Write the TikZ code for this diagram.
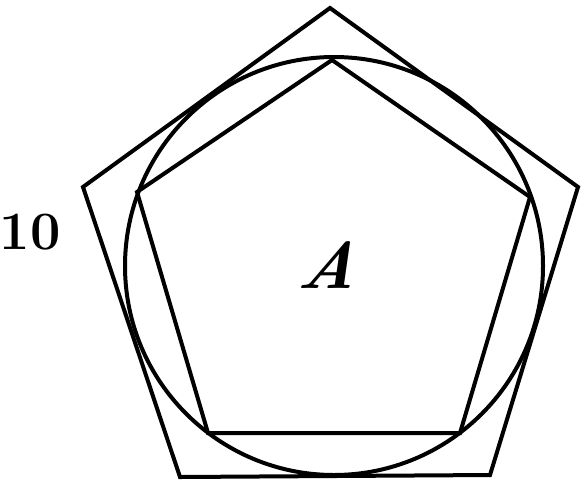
\documentclass[tikz,border=0pt]{standalone}
\begin{document}
\begin{tikzpicture}[x=0.5pt,y=-0.5pt,
  figline/.style={line width=2pt,line join=miter,black},
  lbl/.style={inner sep=0pt,font=\fontsize{27}{29}\selectfont\bfseries}]
\useasboundingbox (0,0) rectangle (581,481);
% outer pentagon
\coordinate (o1) at (330,8);
\coordinate (o2) at (578,187);
\coordinate (o3) at (490,475);
\coordinate (o4) at (180,477);
\coordinate (o5) at (83,187);
% inner pentagon
\coordinate (i1) at (332,60);
\coordinate (i2) at (530,197);
\coordinate (i3) at (460,433);
\coordinate (i4) at (208,433);
\coordinate (i5) at (137,192);
\coordinate (c) at (334,266);
\draw[figline] (o1) -- (o2) -- (o3) -- (o4) -- (o5) -- cycle;
\draw[figline] (c) circle[radius=209];
\draw[figline] (i1) -- (i2) -- (i3) -- (i4) -- (i5) -- cycle;
\node[lbl] (ten) at (30,232) {10};
\node[lbl,font=\fontsize{33}{35}\selectfont\bfseries\itshape,xslant=0.25] (A) at (331,265) {A};
\end{tikzpicture}
\end{document}
